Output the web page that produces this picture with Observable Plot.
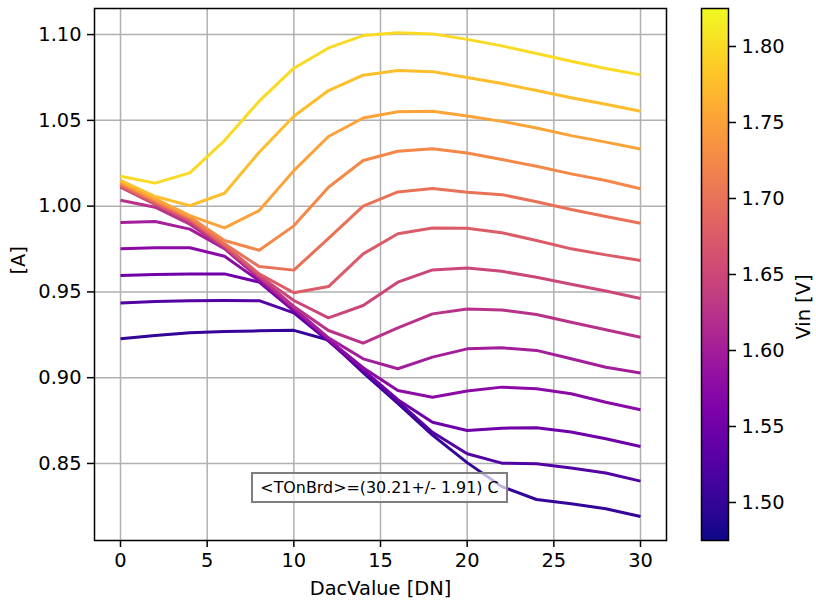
<!DOCTYPE html>
<html><head><meta charset="utf-8">
<script src="https://cdn.jsdelivr.net/npm/d3@7"></script>
<script src="https://cdn.jsdelivr.net/npm/@observablehq/plot@0.6"></script>
<style>
body{margin:0;background:#fff;}
#wrap{position:relative;width:816px;height:600px;font-family:"DejaVu Sans",sans-serif;overflow:hidden;}
#wrap svg{position:absolute;top:0;overflow:visible;}
#tbox{position:absolute;left:251px;top:472px;width:257px;height:31px;box-sizing:border-box;border:2px solid #7f7f7f;background:rgba(255,255,255,0.7);font-size:15.9px;line-height:27px;text-align:center;color:#000;white-space:nowrap;}
</style></head><body><div id="wrap"></div>
<script>
// ---- data ----
const dacValues = [0, 2, 4, 6, 8, 10, 12, 14, 16, 18, 20, 22, 24, 26, 28, 30];
const vinValues = [1.500, 1.525, 1.550, 1.575, 1.600, 1.625, 1.650, 1.675, 1.700, 1.725, 1.750, 1.775, 1.800];
const cur_1p500 = [0.9227, 0.9246, 0.9262, 0.9269, 0.9273, 0.9276, 0.9220, 0.9030, 0.8850, 0.8665, 0.8505, 0.8365, 0.8290, 0.8265, 0.8236, 0.8191];
const cur_1p525 = [0.9436, 0.9444, 0.9448, 0.9450, 0.9449, 0.9378, 0.9213, 0.9038, 0.8862, 0.8682, 0.8557, 0.8502, 0.8498, 0.8473, 0.8444, 0.8397];
const cur_1p550 = [0.9595, 0.9601, 0.9605, 0.9605, 0.9557, 0.9390, 0.9218, 0.9045, 0.8872, 0.8740, 0.8692, 0.8706, 0.8708, 0.8683, 0.8644, 0.8599];
const cur_1p575 = [0.9751, 0.9757, 0.9757, 0.9708, 0.9565, 0.9398, 0.9222, 0.9058, 0.8925, 0.8886, 0.8922, 0.8945, 0.8935, 0.8906, 0.8857, 0.8813];
const cur_1p600 = [0.9904, 0.9910, 0.9866, 0.9752, 0.9580, 0.9405, 0.9232, 0.9110, 0.9052, 0.9120, 0.9168, 0.9174, 0.9159, 0.9110, 0.9061, 0.9027];
const cur_1p625 = [1.0034, 0.9994, 0.9895, 0.9758, 0.9588, 0.9415, 0.9275, 0.9201, 0.9291, 0.9372, 0.9401, 0.9395, 0.9368, 0.9323, 0.9279, 0.9236];
const cur_1p650 = [1.0110, 1.0010, 0.9912, 0.9765, 0.9595, 0.9450, 0.9349, 0.9421, 0.9557, 0.9628, 0.9640, 0.9620, 0.9585, 0.9545, 0.9505, 0.9462];
const cur_1p675 = [1.0118, 1.0018, 0.9920, 0.9772, 0.9605, 0.9495, 0.9531, 0.9722, 0.9839, 0.9873, 0.9871, 0.9845, 0.9800, 0.9751, 0.9716, 0.9683];
const cur_1p700 = [1.0126, 1.0026, 0.9928, 0.9780, 0.9648, 0.9627, 0.9812, 1.0000, 1.0083, 1.0103, 1.0081, 1.0067, 1.0026, 0.9980, 0.9940, 0.9900];
const cur_1p725 = [1.0134, 1.0034, 0.9936, 0.9800, 0.9743, 0.9885, 1.0110, 1.0266, 1.0320, 1.0334, 1.0310, 1.0272, 1.0233, 1.0188, 1.0149, 1.0101];
const cur_1p750 = [1.0142, 1.0042, 0.9945, 0.9873, 0.9974, 1.0207, 1.0406, 1.0514, 1.0550, 1.0553, 1.0525, 1.0494, 1.0455, 1.0411, 1.0373, 1.0333];
const cur_1p775 = [1.0150, 1.0056, 1.0003, 1.0075, 1.0314, 1.0524, 1.0674, 1.0763, 1.0790, 1.0784, 1.0750, 1.0715, 1.0674, 1.0632, 1.0594, 1.0553];
const cur_1p800 = [1.0174, 1.0134, 1.0194, 1.0382, 1.0612, 1.0804, 1.0922, 1.0994, 1.1010, 1.1004, 1.0972, 1.0934, 1.0890, 1.0845, 1.0802, 1.0765];
const xTicks = [0, 5, 10, 15, 20, 25, 30];
const yTicks = [0.85, 0.90, 0.95, 1.00, 1.05, 1.10];
const cbTicks = [1.50, 1.55, 1.60, 1.65, 1.70, 1.75, 1.80];
const annotation = "<TOnBrd>=(30.21+/- 1.91) C";

const series = [cur_1p500, cur_1p525, cur_1p550, cur_1p575, cur_1p600, cur_1p625, cur_1p650,
                cur_1p675, cur_1p700, cur_1p725, cur_1p750, cur_1p775, cur_1p800];
const rows = [];
series.forEach((vals, k) => vals.forEach((v, i) => rows.push({dac: dacValues[i], cur: v, vin: vinValues[k]})));

const FONT = "DejaVu Sans";
const FS = "19.4px";
const colorDomain = [1.475, 1.825];

const main = Plot.plot({
  width: 690, height: 600,
  marginLeft: 94, marginRight: 24, marginTop: 8, marginBottom: 60,
  style: {fontFamily: FONT, fontSize: FS, background: "transparent", color: "black"},
  x: {domain: [-1.5, 31.5]},
  y: {domain: [0.8051, 1.1152]},
  color: {type: "linear", scheme: "plasma", domain: colorDomain},
  marks: [
    Plot.gridX(xTicks, {stroke: "#b0b0b0", strokeOpacity: 1, strokeWidth: 1.5}),
    Plot.gridY(yTicks, {stroke: "#b0b0b0", strokeOpacity: 1, strokeWidth: 1.5}),
    Plot.line(rows, {x: "dac", y: "cur", z: "vin", stroke: "vin", strokeWidth: 3, strokeLinejoin: "round", strokeLinecap: "butt"}),
    Plot.frame({stroke: "black", strokeWidth: 1.5}),
    Plot.axisX(xTicks, {tickSize: 7, tickPadding: 6, strokeWidth: 1.5, label: null, fontSize: FS}),
    Plot.axisY(yTicks, {tickSize: 7, tickPadding: 6, strokeWidth: 1.5, label: null, tickFormat: d => d.toFixed(2), fontSize: FS}),
    Plot.text(["DacValue [DN]"], {text: d => d, frameAnchor: "bottom", dy: 48.5, lineAnchor: "middle", fontSize: FS}),
    Plot.text(["[A]"], {text: d => d, frameAnchor: "left", dx: -76, rotate: -90, lineAnchor: "middle", fontSize: FS})
  ]
});
main.style.left = "0px";

const cb = Plot.plot({
  width: 126, height: 600,
  marginLeft: 11, marginRight: 88, marginTop: 8, marginBottom: 60,
  style: {fontFamily: FONT, fontSize: FS, background: "transparent", color: "black"},
  x: {domain: [0, 1], axis: null},
  y: {domain: colorDomain},
  marks: [
    Plot.frame({fill: "url(#cbgrad)", stroke: "black", strokeWidth: 1.5}),
    Plot.axisY(cbTicks, {anchor: "right", tickSize: 7, tickPadding: 6, strokeWidth: 1.5, label: null, tickFormat: d => d.toFixed(2), fontSize: FS}),
    Plot.text(["Vin [V]"], {text: d => d, frameAnchor: "right", dx: 75, rotate: -90, lineAnchor: "middle", fontSize: FS})
  ]
});
cb.style.left = "690px";
// colormap gradient for the colorbar (bottom -> top)
const defs = d3.select(cb).insert("defs", ":first-child");
const grad = defs.append("linearGradient").attr("id", "cbgrad")
  .attr("x1", 0).attr("y1", 1).attr("x2", 0).attr("y2", 0);
d3.range(0, 1.0001, 0.05).forEach(t => {
  grad.append("stop").attr("offset", t).attr("stop-color", d3.interpolatePlasma(t));
});

const wrap = document.getElementById("wrap");
wrap.appendChild(main);
wrap.appendChild(cb);
const box = document.createElement("div");
box.id = "tbox";
box.textContent = annotation;
wrap.appendChild(box);
</script></body></html>
